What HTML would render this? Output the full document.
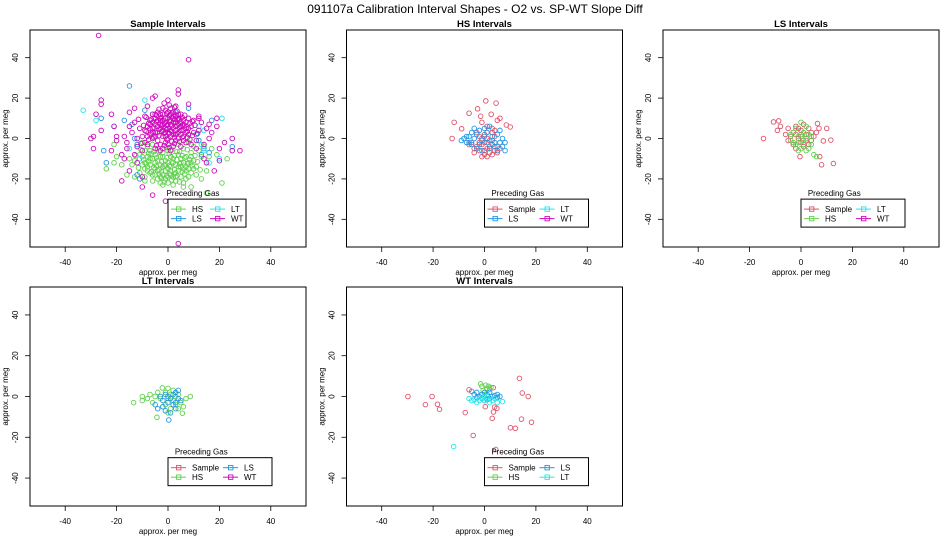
<!DOCTYPE html>
<html><head><meta charset="utf-8">
<style>
html,body{margin:0;padding:0;background:#fff;}
svg{display:block;font-family:"Liberation Sans",Arial,sans-serif;}
</style></head>
<body>
<svg id="chart" width="950" height="550" viewBox="0 0 950 550" xmlns="http://www.w3.org/2000/svg">
<rect x="0" y="0" width="950" height="550" fill="#fff"/>
<text x="475" y="13" font-size="12" text-anchor="middle" fill="#000">091107a   Calibration Interval Shapes - O2 vs. SP-WT Slope Diff</text>
<g id="plots"></g>
</svg>
<script>
const xTicks = [-40, -20, 0, 20, 40];
const yTicks = [-40, -20, 0, 20, 40];
const gasNames = ["Sample", "HS", "LS", "LT", "WT"];
const gasColors = {Sample:"#DF536B", HS:"#61D04F", LS:"#2297E6", LT:"#28E2E5", WT:"#CD0BBC"};

// Panel 1: Sample Intervals
const p1HSa = [[0,-12],[2,-10],[-2,-14],[4,-8],[-4,-16],[6,-12],[-6,-10],[8,-15],[-8,-9],[10,-11],[-10,-13],[1,-18],[-1,-20],[3,-21],[-3,-22],[5,-19],[-5,-18],[7,-20],[-7,-17],[9,-17],[-9,-15],[11,-14],[-11,-8],[12,-6],[-12,-4],[0,-6],[2,-4],[-2,-7],[4,-3],[-4,-5],[6,-5],[-6,-3],[8,-2],[-8,-4],[10,-4],[-10,-2],[13,-9],[-13,-11],[14,-4],[0,-15],[1,-9],[-1,-11],[3,-13],[-3,-9],[5,-14],[-5,-12],[7,-9],[-7,-13],[9,-7],[-9,-6],[11,-18],[-11,-17],[12,-1],[-14,-13],[15,-16],[-15,-10],[2,-23],[-2,-23],[6,-22],[-6,-21],[0,-22],[4,-16],[-4,-20],[1,-14],[-1,-16],[3,-17],[-3,-13],[5,-10],[-5,-8],[7,-16],[-7,-6],[9,-12],[-9,-19],[2,-19],[-2,-18],[8,-19],[-8,-14],
[-21,-3],[-24,-15],[-21,-12],[-18,-13],[-20,-9],[-16,-18],[13,-20],[16,-9],[19,-8],[23,-10],[21,-22],[15,-27],[9,-24],[6,-24],[17,-5],[-13,-19],[-9,-21]];
const p1HSb = [[0.5,-13.5],[1.5,-11.5],[-0.5,-9.5],[-1.5,-13.5],[2.5,-15.5],[-2.5,-11.5],[3.5,-10.5],[-3.5,-15.5],[4.5,-12.5],[-4.5,-9.5],[5.5,-16.5],[-5.5,-14.5],[6.5,-9.5],[-6.5,-16.5],[7.5,-12.5],[-7.5,-11.5],[8.5,-10.5],[-8.5,-12.5],[0.5,-17.5],[1.5,-20.5],[-0.5,-18.5],[-1.5,-21.5],[2.5,-17.5],[-2.5,-19.5],[3.5,-18.5],[-3.5,-17.5],[4.5,-21.5],[-4.5,-13.5],[5.5,-8.5],[-5.5,-6.5],[6.5,-17.5],[-6.5,-7.5],[9.5,-13.5],[-9.5,-10.5],[10.5,-8.5],[-10.5,-5.5],[11.5,-11.5],[-11.5,-14.5],[0.5,-7.5],[-0.5,-4.5],[1.5,-5.5],[3.5,-6.5],[-3.5,-6.5],[7.5,-5.5],[-7.5,-7.5],[12.5,-15.5],[-12.5,-8.5],[2.5,-8.5],[-2.5,-16.5],[4.5,-6.5],[1,-16],[-1,-13],[3,-19],[-3,-19],[5,-12],[-5,-15],[7,-14],[-7,-10],[9,-9],[-9,-12],[0,-19],[2,-12],[-2,-9],[4,-14],[-4,-11],[6,-15],[-6,-18],[8,-12],[-8,-16],[10,-15],[-10,-9]];
const p1HS = p1HSa.concat(p1HSb);
const p1LS = [[-15,26],[-26,10],[-25,-6],[-24,-12],[-12,-18],[-11,-20],[8,15],[-9,14],[12,-1],[14,-5],[16,-7],[25,-4],[17,9],[-13,0],[-12,-3],[13,-8],[-17,9],[-14,7],[11,2],[3,13]];
const p1LT = [[-33,14],[-28,9],[-21,6],[-9,19],[21,10],[20,-10],[25,-6],[16,-12],[14,-6],[13,-3],[-15,-5],[-11,-10],[14,4],[12,6],[-6,12]];
const p1WTa = [[0,3],[2,5],[-2,1],[4,0],[-4,6],[1,9],[-1,-2],[3,11],[-3,12],[5,8],[-5,3],[6,-1],[-6,0],[7,5],[-7,9],[8,2],[-8,-3],[9,6],[-9,4],[2,-4],[-2,-5],[0,13],[1,15],[-1,10],[3,-1],[-3,-3],[4,12],[-4,-1],[5,-4],[-5,10],[6,9],[-6,12],[7,-2],[-7,2],[8,10],[-8,6],[9,-3],[-9,-2],[10,3],[-10,1],[0,7],[1,1],[2,8],[-1,5],[-2,9],[3,4],[-3,7],[4,7],[-4,3],[5,2],[-5,-5],[6,4],[-6,5],[0,-3],[1,-6],[-1,14],[2,13],[-2,15],[3,16],[-3,-6],[11,-1],[-11,5],[12,4],[-12,-4],[13,8],[-13,8],[14,-3],[-14,3],[12,10],[-12,0],[11,-5],[-10,-6],[10,9],[-9,11],[15,5],[-15,6],[16,0],[-16,-2],[17,3],[-17,1],[0,10],[1,4],[-1,8],[2,11],[-2,4],[3,8],[-3,10],[4,3],[-4,9],[5,12],[-5,7],[6,1],[-6,8],[0,0],[2,2],[-2,12],[7,8],[-7,5],[8,5],[-8,1],
[-27,51],[8,39],[4,24],[4,22],[-13,15],[-15,13],[-26,19],[-26,17],[-28,12],[-30,0],[-29,1],[-29,-5],[-26,4],[-22,12],[-21,6],[-20,1],[-20,-1],[-18,-21],[-15,-16],[-10,-24],[-6,-28],[-1,-31],[4,-52],[-10,-19],[-12,-12],[8,17],[12,11],[15,-12],[19,10],[20,-5],[22,-2],[25,0],[25,-6],[28,-6],[18,-16],[20,-11],[19,6],[16,7],[-18,-8],[-16,-5],[-22,-6],[-17,-10],[-8,16],[-6,20],[-5,21],[0,19],[-13,-8],[14,-10]];
const p1WTb = [[0.5,2.5],[1.5,6.5],[-0.5,4.5],[-1.5,2.5],[2.5,0.5],[-2.5,6.5],[3.5,9.5],[-3.5,1.5],[4.5,5.5],[-4.5,11.5],[5.5,0.5],[-5.5,5.5],[6.5,6.5],[-6.5,2.5],[7.5,0.5],[-7.5,7.5],[8.5,7.5],[-8.5,3.5],[0.5,11.5],[1.5,12.5],[-0.5,-0.5],[2.5,-2.5],[-1.5,-3.5],[3.5,2.5],[-3.5,4.5],[4.5,9.5],[-4.5,8.5],[5.5,6.5],[-5.5,0.5],[6.5,11.5],[-6.5,9.5],[0.5,8.5],[-0.5,12.5],[1.5,-1.5],[-1.5,7.5],[2.5,9.5],[-2.5,10.5],[3.5,6.5],[-3.5,14.5],[4.5,-1.5],[-4.5,-3.5],[5.5,10.5],[9.5,1.5],[-9.5,6.5],[10.5,6.5],[-10.5,-2.5],[11.5,2.5],[-11.5,9.5],[0.5,16.5],[-1.5,17.5],[2.5,15.5],[0.5,-4.5],[7.5,3.5],[-7.5,-0.5],[8.5,-0.5],[-8.5,10.5],[9.5,8.5],[1.5,3.5],[-0.5,6.5],[3.5,13.5],[-2.5,3.5],[1,7],[-1,3],[3,6],[-3,5],[5,4],[-5,1],[7,3],[-7,7],[2,10],[-2,7],[4,10],[-4,13],[6,7],[-6,3],[0,5],[1,12],[-1,1],[3,2],[-3,9],[5,6],[-5,12]];
const p1WT = p1WTa.concat(p1WTb);

// Panel 2: HS Intervals
const p2Sample = [[0.5,18.6],[4.5,17.5],[-2.7,14.7],[-6,12.5],[2.6,12],[-1.5,11],[-11.8,8],[-8.9,4.8],[-12.6,0],[10,5.7],[6,10],[8.5,6.7],[5,9],[-1,8],[1,6],[3,3],[-3,-4],[-2,-6],[0,-8],[2,-7],[4,-6],[5,-4],[-4,-7],[-1,-3],[1,-5],[3,-8],[0,-2],[2,-1],[-2,1],[0,2],[1,3],[-3,3],[4,1],[6,-5],[-5,-2],[3,-3],[-1,-9],[1,-9],[-4,-5],[5,-7],[2,-4],[-2,-2],[1,0],[4,4],[-6,-3],[0,-6],[3,5],[-1,0]];
const p2LS = [[-8,0],[-9,-1],[-7,-2],[-6,1],[-5,3],[-4,5],[-3,2],[-2,4],[-1,-1],[0,5],[1,3],[2,6],[3,1],[4,-2],[5,2],[6,4],[7,0],[8,-2],[8,-6],[7,-4],[-5,-3],[-3,-5],[-1,-6],[2,-5],[4,-4],[-7,1],[6,-2],[0,1],[-2,-3],[3,-1],[5,-6],[-4,0],[1,-2],[-6,-2]];

// Panel 3: LS Intervals
const p3Sample = [[-10.7,8.2],[-8.7,8.7],[-14.6,0],[-9.2,4],[-8,6],[6.4,7.4],[10,5],[11.6,-0.8],[8.7,-1.2],[7.3,-9],[8,-13],[12.6,-12.4],[-0.4,-9],[-5,5],[-3,3],[-2,6],[0,4],[1,7],[2,2],[3,5],[4,3],[-4,1],[-1,0],[0,-2],[2,-1],[-3,-3],[1,-4],[3,-3],[5,1],[-2,2],[0,1],[-1,5],[6,3],[-6,2],[4,-1],[-5,-1],[7,5],[-2,-5]];
const p3HS = [[0,8],[-2,5],[2,6],[-3,3],[3,2],[-1,1],[1,-1],[-4,-1],[4,-3],[-2,-3],[0,-5],[2,-6],[-1,-6],[3,-5],[5,-8],[6,-9],[1,3],[-3,-2],[0,2],[2,0],[-1,-2],[4,1],[-4,2],[1,-3]];

// Panel 4: LT Intervals
const p4HS = [[-13.4,-3],[-10,0],[-10,-2],[-8,-1],[8.7,0],[7,-1],[-4.3,-10.2],[5.6,-8.2],[-2.2,4.2],[0,4],[-1,2],[2,3],[-3,-1],[3,-4],[-5,0],[4,1],[1,-6],[-2,-5],[5,-3],[-6,-3],[6,-5],[0,-1],[2,-2],[-4,2],[3,0],[-1,-4],[1,1],[-7,1],[4,-6],[0,-8]];
const p4LS = [[0.3,-11.5],[4,3],[3,2],[-3,0],[-2,-2],[0,-3],[1,-1],[2,-4],[3,-6],[-1,-7],[1,-8],[-4,-6],[4,-1],[-1,1],[2,1],[5,-2],[-5,-4],[0,0],[-2,-5],[3,-3]];

// Panel 5: WT Intervals
const p5Sample = [[-29.8,0],[-20.4,0],[-23,-4],[-18.3,-3.8],[-17.5,-6.3],[-7.5,-7.9],[-6,3.3],[-4.4,-19.1],[3.4,4.3],[0.3,-5],[3.9,-5.2],[4.8,-5.8],[3.5,-7.6],[3,-10.7],[4.4,-26],[13.6,8.9],[14.7,1.7],[17,0],[14.4,-11.1],[18.3,-12.6],[10.1,-15.3],[12,-15.6]];
const p5HS = [[-1.5,6.2],[-1,5],[0.5,5.5],[1,4],[2,3.5],[-0.5,3],[0,2],[1.5,5],[-1,1],[2.5,4.5]];
const p5LS = [[-5,2.5],[-4,1],[-3,2],[-2,0],[-1,-1],[0,2],[1,1],[2,-1],[3,0],[4,0.5],[5,-0.5],[6,0],[-3,-0.5],[0,-2],[2,2],[5,1],[-1,1],[1,-1.5]];
const p5LT = [[-12,-24.5],[-6,-1],[-5,-2],[-3,-3],[-2,-2],[-1,-1],[0,0],[1,-1],[2,-3],[3,-2],[5,-3],[7,-2.5],[4,-1],[-4,-1.5],[0,-2],[1,0]];

const panels = [
  {name:"sample", title:"Sample Intervals", left:30, top:30, h:217, series:[["HS",p1HS],["LS",p1LS],["LT",p1LT],["WT",p1WT]], legend:["HS","LT","LS","WT"], lw:78},
  {name:"hs", title:"HS Intervals", left:346.5, top:30, h:217, series:[["Sample",p2Sample],["LS",p2LS]], legend:["Sample","LT","LS","WT"], lw:104},
  {name:"ls", title:"LS Intervals", left:663, top:30, h:217, series:[["Sample",p3Sample],["HS",p3HS]], legend:["Sample","LT","HS","WT"], lw:104},
  {name:"lt", title:"LT Intervals", left:30, top:287, h:219, series:[["HS",p4HS],["LS",p4LS]], legend:["Sample","LS","HS","WT"], lw:104},
  {name:"wt", title:"WT Intervals", left:346.5, top:287, h:219, series:[["Sample",p5Sample],["HS",p5HS],["LS",p5LS],["LT",p5LT]], legend:["Sample","LS","HS","LT"], lw:104}
];
const NS = "http://www.w3.org/2000/svg";
const root = document.getElementById("plots");
function mk(tag, attrs, parent){ const e=document.createElementNS(NS,tag); for(const k in attrs) e.setAttribute(k,attrs[k]); parent.appendChild(e); return e; }
const D = 53.7, W = 276;
panels.forEach(p=>{
  const g = mk("g",{},root);
  
  
  const sx = v => p.left + (v + D) / (2*D) * W;
  const sy = v => p.top + (D - v) / (2*D) * p.h;
  const bottom = p.top + p.h;
  const t = mk("text",{x:p.left+W/2,y:p.top-3,"font-size":"9.5","font-weight":"bold","text-anchor":"middle"},g);
  t.textContent = p.title;
  
  
  xTicks.forEach(v=>{
    mk("line",{x1:sx(v),x2:sx(v),y1:bottom,y2:bottom+5,stroke:"#000","stroke-width":"0.8"},g);
    const l = mk("text",{x:sx(v),y:bottom+18,"font-size":"8","text-anchor":"middle"},g);
    l.textContent = v;
    
    
  });
  yTicks.forEach(v=>{
    mk("line",{x1:p.left-5,x2:p.left,y1:sy(v),y2:sy(v),stroke:"#000","stroke-width":"0.8"},g);
    const l = mk("text",{x:0,y:0,"font-size":"8","text-anchor":"middle",transform:`translate(${p.left-12},${sy(v)}) rotate(-90)`},g);
    l.textContent = v;
    
    
  });
  const xt = mk("text",{x:p.left+W/2,y:bottom+28,"font-size":"8","text-anchor":"middle"},g);
  xt.textContent = "approx. per meg";
  
  
  const yt = mk("text",{x:0,y:0,"font-size":"8","text-anchor":"middle",transform:`translate(${p.left-22},${p.top+p.h/2}) rotate(-90)`},g);
  yt.textContent = "approx. per meg";
  
  
  p.series.forEach(([gas, pts])=>{
    pts.forEach(([x,y])=>{
      const c = mk("circle",{cx:sx(x),cy:sy(y),r:"2.3",fill:"none",stroke:gasColors[gas],"stroke-width":"0.9"},g);
      
      
    });
  });
  const box = mk("rect",{x:p.left,y:p.top,width:W,height:p.h,fill:"none",stroke:"#000","stroke-width":"1"},g);
  
  
  const lx = sx(0), ly = sy(-30);
  const lg = mk("g",{},g);
  
  
  const lt = mk("text",{x:lx+p.lw*0.32,y:ly-3,"font-size":"8","text-anchor":"middle"},lg);
  lt.textContent = "Preceding Gas";
  
  
  mk("rect",{x:lx,y:ly,width:p.lw,height:28,fill:"#fff",stroke:"#000","stroke-width":"1"},lg);
  const col2 = p.lw===78 ? 39 : 52;
  p.legend.forEach((gas,i)=>{
    const col = i%2===0 ? 0 : col2;
    const row = i<2 ? 0 : 1;
    const cx0 = lx + 3 + col, cy = ly + 10 + row*9.5;
    const e = mk("g",{},lg);
    
    
    mk("line",{x1:cx0,x2:cx0+15,y1:cy,y2:cy,stroke:gasColors[gas],"stroke-width":"1"},e);
    mk("rect",{x:cx0+5.5,y:cy-2.2,width:4.4,height:4.4,fill:"none",stroke:gasColors[gas],"stroke-width":"0.9"},e);
    const tx = mk("text",{x:cx0+21,y:cy+3,"font-size":"8"},e);
    tx.textContent = gas;
  });
});
</script>
</body></html>
